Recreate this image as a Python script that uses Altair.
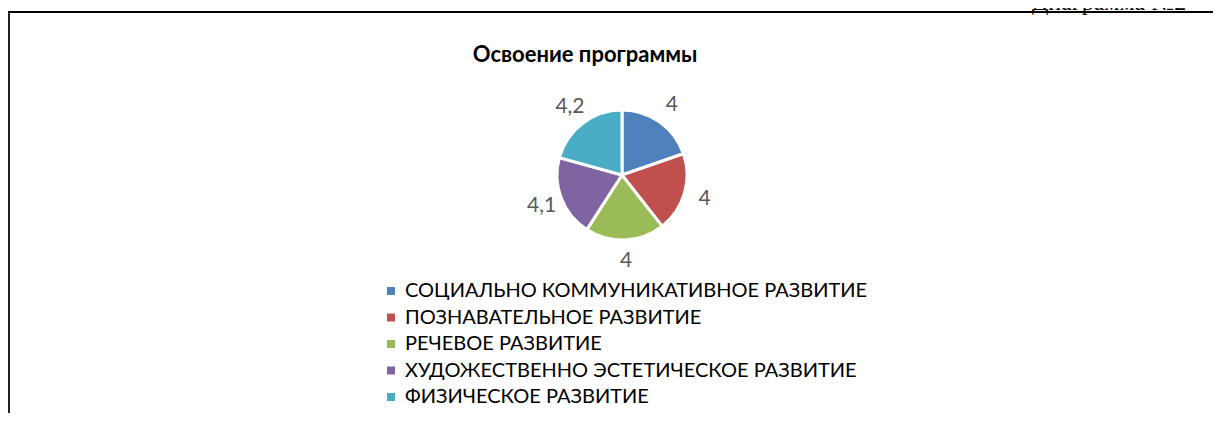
import altair as alt
import pandas as pd

categories = [
    "СОЦИАЛЬНО КОММУНИКАТИВНОЕ РАЗВИТИЕ",
    "ПОЗНАВАТЕЛЬНОЕ РАЗВИТИЕ",
    "РЕЧЕВОЕ РАЗВИТИЕ",
    "ХУДОЖЕСТВЕННО ЭСТЕТИЧЕСКОЕ РАЗВИТИЕ",
    "ФИЗИЧЕСКОЕ РАЗВИТИЕ",
]
values = [4, 4, 4, 4.1, 4.2]
labels = ["4", "4", "4", "4,1", "4,2"]
colors = ["#4F81BD", "#C0504D", "#9BBB59", "#8064A2", "#4BACC6"]
title_text = "Освоение программы"
corner_text = "Диаграмма №2"

df = pd.DataFrame({
    "cat": categories,
    "value": values,
    "label": labels,
    "order": list(range(len(categories))),
})

W, H = 1205, 405
CX, CY = 614, 167
FONT = "Lato"

color_enc = alt.Color(
    "cat:N",
    scale=alt.Scale(domain=categories, range=colors),
    sort=categories,
    legend=alt.Legend(
        title=None,
        orient="none",
        legendX=373,
        legendY=273,
        symbolType="square",
        symbolSize=64,
        symbolStrokeWidth=0,
        labelFontSize=20,
        labelFont=FONT,
        labelColor="#000000",
        labelLimit=0,
        labelOffset=4,
        rowPadding=6.5,
    ),
)

pie = alt.Chart(df).mark_arc(outerRadius=65, stroke="white", strokeWidth=3).encode(
    theta=alt.Theta("value:Q", stack=True),
    order=alt.Order("order:Q"),
    color=color_enc,
    x=alt.value(CX),
    y=alt.value(CY),
)

text = alt.Chart(df).mark_text(radius=86, fontSize=21, font=FONT, color="#595959").encode(
    theta=alt.Theta("value:Q", stack=True),
    order=alt.Order("order:Q"),
    text="label:N",
    x=alt.value(CX),
    y=alt.value(CY),
)

title = alt.Chart(pd.DataFrame({"t": [title_text]})).mark_text(
    font=FONT, fontSize=22, fontWeight="bold", color="#000000"
).encode(text="t:N", x=alt.value(577), y=alt.value(47))

corner = alt.Chart(pd.DataFrame({"t": [corner_text]})).mark_text(
    font="Liberation Serif", fontSize=24, color="#000000", align="left", baseline="alphabetic"
).encode(text="t:N", x=alt.value(1024), y=alt.value(2))

border_top = alt.Chart(pd.DataFrame({"a": [0]})).mark_rule(color="#000000", strokeWidth=2).encode(
    x=alt.value(0), x2=alt.value(W), y=alt.value(4)
)
border_left = alt.Chart(pd.DataFrame({"a": [0]})).mark_rule(color="#222222", strokeWidth=2).encode(
    x=alt.value(1), y=alt.value(4), y2=alt.value(H)
)

chart = alt.layer(pie, text, title, corner, border_top, border_left).properties(
    width=W, height=H, padding=0, autosize=alt.AutoSizeParams(type="none")
).configure_view(stroke=None)

chart.save("out.html", embed_options={"renderer": "svg", "actions": False})
